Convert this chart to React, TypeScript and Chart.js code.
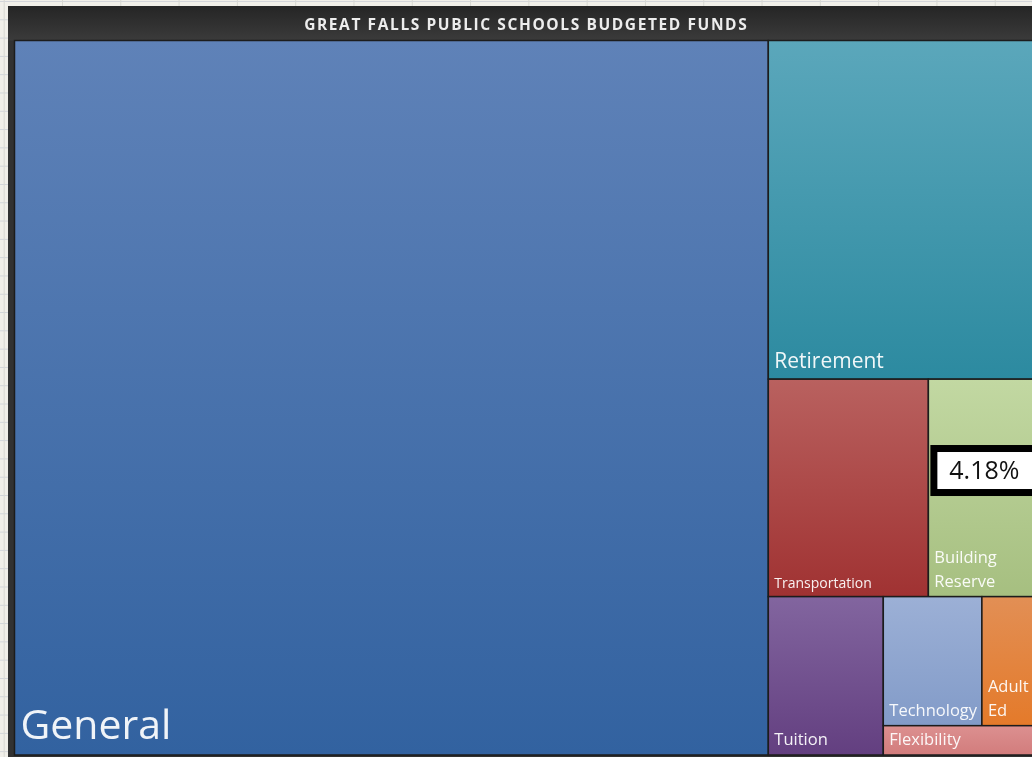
import React, { useEffect, useRef } from 'react';
import { Chart, registerables } from 'chart.js';

Chart.register(...registerables);

const TITLE = 'GREAT FALLS PUBLIC SCHOOLS BUDGETED FUNDS';
const categories = ['General', 'Retirement', 'Transportation', 'Building Reserve', 'Tuition', 'Technology', 'Adult Ed', 'Flexibility'];
const values = [73.65, 12.49, 4.76, 3.26, 2.49, 1.74, 0.99, 0.62];
const highlightCategory = 'Building Reserve';
const highlightLabel = '4.18%';

// treemap strips: how many categories each strip holds, and its orientation
const stripCounts = [1, 1, 2, 1, 2, 1];
const stripOrientation = ['column', 'row', 'row', 'column', 'row', 'row'];

const topColors = ['#5f82b8', '#5ba7bb', '#b9615f', '#c2d8a2', '#82659f', '#9cb0d6', '#e28f55', '#dc9090'];
const bottomColors = ['#3262a0', '#2c8aa0', '#a03232', '#a6bf80', '#633f80', '#829bc8', '#e47a2a', '#d27c7c'];
const labelSizes = [41, 21, 14, 16.5, 16.5, 16.5, 16.5, 16.5];
const FONT = '"Open Sans", "DejaVu Sans", sans-serif';

type Cell = { i: number; x0: number; x1: number; y0: number; y1: number };

function layoutCells(): Cell[] {
  const cells: Cell[] = [];
  let rx0 = 0, rx1 = 1, ry0 = 0, ry1 = 1;
  let remaining = values.reduce((a, b) => a + b, 0);
  let idx = 0;
  stripCounts.forEach((count, s) => {
    const items = values.slice(idx, idx + count);
    const sum = items.reduce((a, b) => a + b, 0);
    const f = sum / remaining;
    if (stripOrientation[s] === 'column') {
      const w = (rx1 - rx0) * f;
      let y = ry0;
      items.forEach((v, k) => {
        const h = (ry1 - ry0) * (v / sum);
        cells.push({ i: idx + k, x0: rx0, x1: rx0 + w, y0: y, y1: y + h });
        y += h;
      });
      rx0 += w;
    } else {
      const h = (ry1 - ry0) * f;
      let x = rx0;
      items.forEach((v, k) => {
        const w = (rx1 - rx0) * (v / sum);
        cells.push({ i: idx + k, x0: x, x1: x + w, y0: ry0, y1: ry0 + h });
        x += w;
      });
      ry0 += h;
    }
    remaining -= sum;
    idx += count;
  });
  return cells;
}

function wrapText(ctx: CanvasRenderingContext2D, text: string, maxW: number): string[] {
  if (ctx.measureText(text).width <= maxW) return [text];
  const words = text.split(' ');
  const lines: string[] = [];
  let cur = '';
  words.forEach((w) => {
    const test = cur ? cur + ' ' + w : w;
    if (cur && ctx.measureText(test).width > maxW) {
      lines.push(cur);
      cur = w;
    } else cur = test;
  });
  if (cur) lines.push(cur);
  return lines;
}

const treemapPlugin = {
  id: 'treemapCells',
  beforeDraw(chart: any) {
    const { ctx, width, height, chartArea } = chart;
    ctx.save();
    ctx.fillStyle = '#323232';
    ctx.fillRect(0, 0, width, height);
    const g = ctx.createLinearGradient(0, 0, 0, chartArea.top);
    g.addColorStop(0, '#252525');
    g.addColorStop(1, '#3b3b3b');
    ctx.fillStyle = g;
    ctx.fillRect(0, 0, width, chartArea.top);
    ctx.restore();
    (ctx as any).letterSpacing = '1.6px';
  },
  afterDraw(chart: any) {
    const { ctx } = chart;
    (ctx as any).letterSpacing = '0px';
    const xs = chart.scales.x;
    const ys = chart.scales.y;
    const cells = layoutCells();
    ctx.save();
    cells.forEach((c) => {
      const left = xs.getPixelForValue(c.x0);
      const right = xs.getPixelForValue(c.x1);
      const top = ys.getPixelForValue(c.y0);
      const bottom = ys.getPixelForValue(c.y1);
      const g = ctx.createLinearGradient(0, top, 0, bottom);
      g.addColorStop(0, topColors[c.i]);
      g.addColorStop(1, bottomColors[c.i]);
      ctx.fillStyle = g;
      ctx.fillRect(left, top, right - left, bottom - top);
      ctx.strokeStyle = '#1c1c1c';
      ctx.lineWidth = 1.5;
      ctx.strokeRect(left, top, right - left, bottom - top);
    });
    cells.forEach((c) => {
      const left = xs.getPixelForValue(c.x0);
      const right = xs.getPixelForValue(c.x1);
      const bottom = ys.getPixelForValue(c.y1);
      const size = labelSizes[c.i];
      ctx.font = `500 ${size}px ${FONT}`;
      ctx.fillStyle = 'rgba(255,255,255,0.93)';
      ctx.textAlign = 'left';
      ctx.textBaseline = 'alphabetic';
      const lines = wrapText(ctx, categories[c.i], right - left - 12);
      const lh = size * 1.45;
      const base = bottom - (5 + size * 0.28);
      lines.forEach((ln, k) => {
        ctx.fillText(ln, left + 6, base - (lines.length - 1 - k) * lh);
      });
    });
    const hc = cells.find((c) => categories[c.i] === highlightCategory);
    if (hc) {
      const left = xs.getPixelForValue(hc.x0) + 2;
      const top = ys.getPixelForValue(hc.y0);
      const bottom = ys.getPixelForValue(hc.y1);
      const bw = 110;
      const cy = top + (bottom - top) * 0.42;
      const bh = 51;
      ctx.fillStyle = '#000000';
      ctx.fillRect(left, cy - bh / 2, bw, bh);
      ctx.fillStyle = '#ffffff';
      ctx.fillRect(left + 7, cy - bh / 2 + 7, bw - 14, bh - 14);
      ctx.fillStyle = '#111111';
      ctx.font = `25px ${FONT}`;
      ctx.textAlign = 'center';
      ctx.textBaseline = 'middle';
      ctx.fillText(highlightLabel, left + bw / 2 - 1, cy + 1);
    }
    ctx.restore();
  },
};

export default function App() {
  const ref = useRef<HTMLCanvasElement | null>(null);
  useEffect(() => {
    if (!ref.current) return;
    const chart = new Chart(ref.current, {
      type: 'scatter',
      data: { datasets: [{ label: 'Funds', data: [] }] },
      options: {
        animation: false,
        responsive: false,
        events: [],
        layout: { padding: { left: 6.5, right: 6, top: 0, bottom: 5 } },
        scales: {
          x: { type: 'linear', min: 0, max: 1, display: false },
          y: { type: 'linear', min: 0, max: 1, reverse: true, display: false },
        },
        plugins: {
          legend: { display: false },
          tooltip: { enabled: false },
          title: {
            display: true,
            text: TITLE,
            color: '#ededed',
            font: { family: FONT, size: 15.5, weight: 'bold', lineHeight: 1.2 },
            padding: { top: 10.5, bottom: 5.4 },
          },
        },
      },
      plugins: [treemapPlugin],
    });
    return () => chart.destroy();
  }, []);

  return (
    <div
      style={{
        position: 'fixed',
        left: 0,
        top: 0,
        width: 1032,
        height: 757,
        overflow: 'hidden',
        backgroundColor: '#f1efe9',
        backgroundImage:
          'linear-gradient(to right, #d8d8d2 1px, transparent 1px), linear-gradient(to bottom, #d2d5da 1px, transparent 1px)',
        backgroundSize: '58.3px 100%, 100% 18.3px',
        backgroundPosition: '3.7px 0, 0 1px',
      }}
    >
      <canvas
        ref={ref}
        width={1036}
        height={754}
        style={{ position: 'absolute', left: 8, top: 6 }}
      />
    </div>
  );
}
